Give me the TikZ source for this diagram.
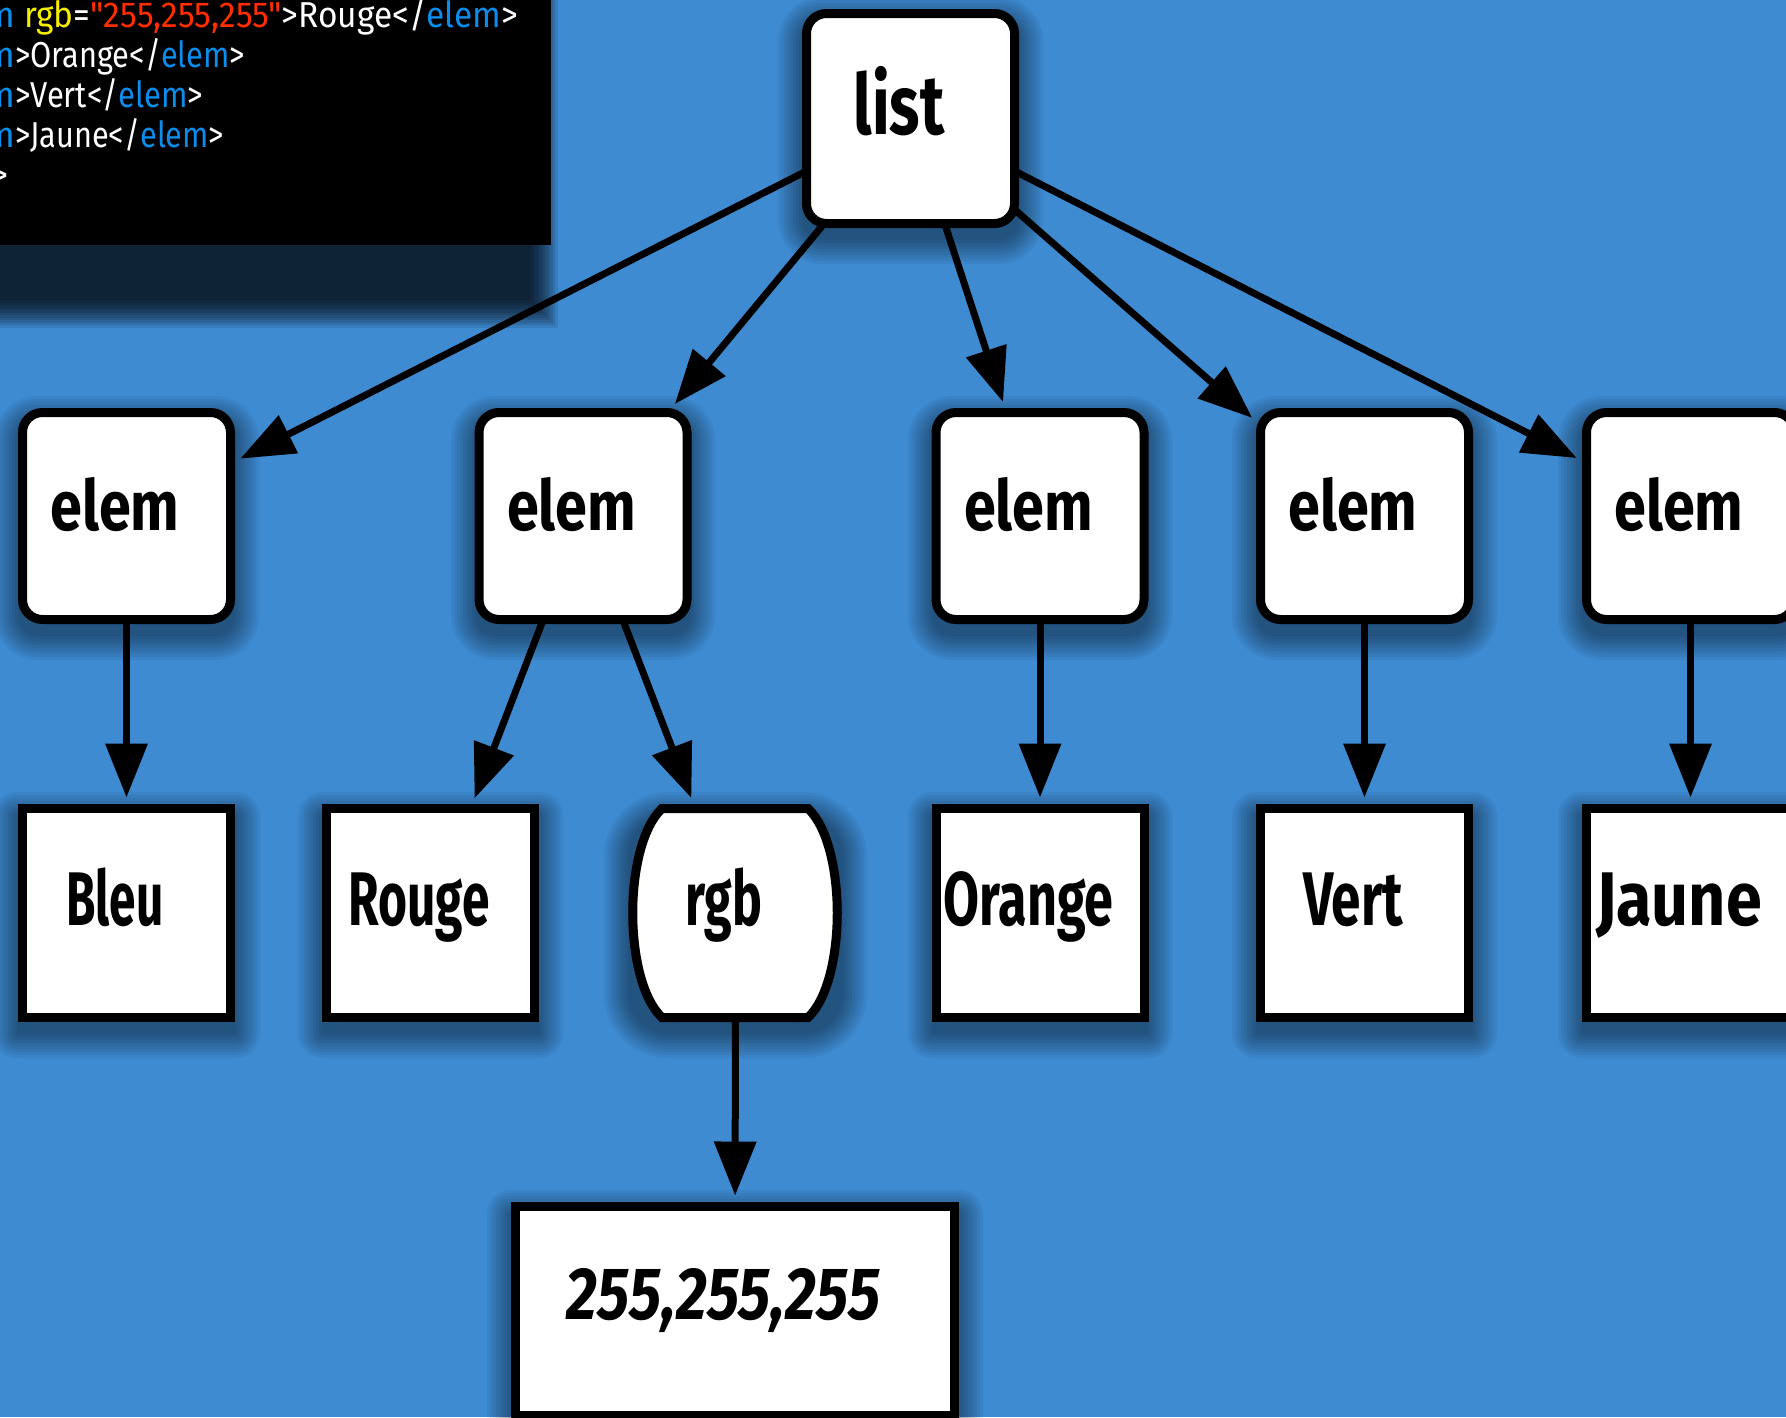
\documentclass[tikz,border=0pt]{standalone}
\usepackage{fontspec}
\setmainfont{Fira Sans}[Ligatures=TeXOff]
\usepackage{graphicx}
\usetikzlibrary{arrows.meta}
\definecolor{bgblue}{RGB}{62,139,210}
\definecolor{cblue}{RGB}{12,140,235}
\definecolor{cyellow}{RGB}{245,238,0}
\definecolor{cred}{RGB}{255,45,0}
\newcommand\boxshadow[5]{\foreach \s in {0,3,...,24}{\pgfmathsetmacro\rr{#5+\s}\fill[black,opacity=0.05,rounded corners=\rr pt] ({#1-\s},{#2-\s+12}) rectangle ({#3+\s},{#4+\s+12});}}
\newcommand\lbl[4]{\makebox[0pt]{\hspace*{-23pt}\raisebox{-#2pt}[0pt][0pt]{\resizebox{#3pt}{\height}{\fontsize{#1pt}{#1pt}\selectfont\bfseries #4}}}}
\tikzset{
  boxbase/.style={draw=black, line width=9pt, fill=white, inner sep=0pt, outer sep=0pt},
  rbox/.style={boxbase, rounded corners=20pt, minimum width=208pt, minimum height=207pt},
  sbox/.style={boxbase, minimum width=208pt, minimum height=209pt},
  arr/.style={line width=7pt, -{Triangle[length=54pt,width=41pt]}, shorten >=11pt},
  code/.style={text=white, inner sep=0pt, font=\fontsize{36pt}{40pt}\selectfont}
}
\begin{document}
\begin{tikzpicture}[x=1pt,y=-1pt]
\useasboundingbox (0,0) rectangle (1786,1417);
\clip (0,0) rectangle (1786,1417);
\fill[bgblue] (0,0) rectangle (1786,1417);
% code box and its shadow
\foreach \s in {0,2.5,...,27.5}{\fill[black,opacity=0.1] (-50,-10) rectangle ({530+\s},{300+\s});}
\fill[black] (-10,-10) rectangle (551,245);
\node[code, anchor=base west] (c1) at (15,27) {\llap{<\textcolor{cblue}{elem}}\resizebox{503pt}{\height}{\ \textcolor{cyellow}{rgb}=\textcolor{cred}{"255,255,255"}>Rouge</\textcolor{cblue}{elem}>}};
\node[code, anchor=base west] (c2) at (15,67) {\llap{<\textcolor{cblue}{elem}}\resizebox{230pt}{\height}{>Orange</\textcolor{cblue}{elem}>}};
\node[code, anchor=base west] (c3) at (15,107) {\llap{<\textcolor{cblue}{elem}}\resizebox{188pt}{\height}{>Vert</\textcolor{cblue}{elem}>}};
\node[code, anchor=base west] (c4) at (15,147) {\llap{<\textcolor{cblue}{elem}}\resizebox{209pt}{\height}{>Jaune</\textcolor{cblue}{elem}>}};
\node[code, anchor=base east] (c5) at (9,187) {</list>};
% shadows
\boxshadow{802}{9}{1019}{228}{20}
\boxshadow{18}{408}{235}{624}{20}
\boxshadow{475}{408}{691}{624}{20}
\boxshadow{932}{408}{1148}{624}{20}
\boxshadow{1256}{408}{1473}{624}{20}
\boxshadow{1582}{408}{1799}{624}{20}
\boxshadow{17}{804}{236}{1022}{0}
\boxshadow{322}{804}{539}{1022}{0}
\boxshadow{628}{804}{843}{1022}{40}
\boxshadow{932}{804}{1148}{1022}{0}
\boxshadow{1256}{804}{1473}{1022}{0}
\boxshadow{1582}{804}{1799}{1022}{0}
\boxshadow{511}{1202}{959}{1420}{0}
% nodes
\node[rbox, minimum height=210pt] (list) at (910.5,118.5) {\lbl{84}{16}{91}{list}};
\node[rbox] (e1) at (126.5,516) {\lbl{70}{14}{129}{elem}};
\node[rbox] (e2) at (583,516) {\lbl{70}{14}{129}{elem}};
\node[rbox] (e3) at (1040,516) {\lbl{70}{14}{129}{elem}};
\node[rbox] (e4) at (1364.5,516) {\lbl{70}{14}{129}{elem}};
\node[rbox] (e5) at (1690.5,516) {\lbl{70}{14}{129}{elem}};
\node[sbox] (bleu) at (126.5,913) {\lbl{76}{12}{97}{Bleu}};
\node[sbox] (rouge) at (430.5,913) {\lbl{76}{12}{141}{Rouge}};
\draw[line width=9pt, fill=white] (662,808.5) -- (808,808.5) .. controls (847,845) and (847,981) .. (808,1017.5) -- (662,1017.5) .. controls (623,981) and (623,845) .. (662,808.5) -- cycle;
\node[inner sep=0pt, minimum width=206pt, minimum height=209pt] (rgb) at (735.5,913) {\lbl{76}{12}{77}{rgb}};
\node[sbox] (orange) at (1040,913) {\lbl{76}{12}{170}{Orange}};
\node[sbox] (vert) at (1364.5,913) {\lbl{76}{12}{100}{Vert}};
\node[sbox] (jaune) at (1690.5,913) {\lbl{76}{12}{166}{Jaune}};
\node[sbox, minimum width=439pt] (num) at (735,1311) {\lbl{74}{8}{313}{\itshape 255,255,255}};
% connectors
\draw[arr] (list) -- (e1);
\draw[arr] (list) -- (e2);
\draw[arr] (list) -- (e3);
\draw[arr] (list) -- (e4);
\draw[arr] (list) -- (e5);
\draw[arr] (e1) -- (bleu);
\draw[arr] (e2) -- (rouge);
\draw[arr] (e2) -- (rgb);
\draw[arr] (e3) -- (orange);
\draw[arr] (e4) -- (vert);
\draw[arr] (e5) -- (jaune);
\draw[arr] (rgb) -- (num);
\end{tikzpicture}
\end{document}
